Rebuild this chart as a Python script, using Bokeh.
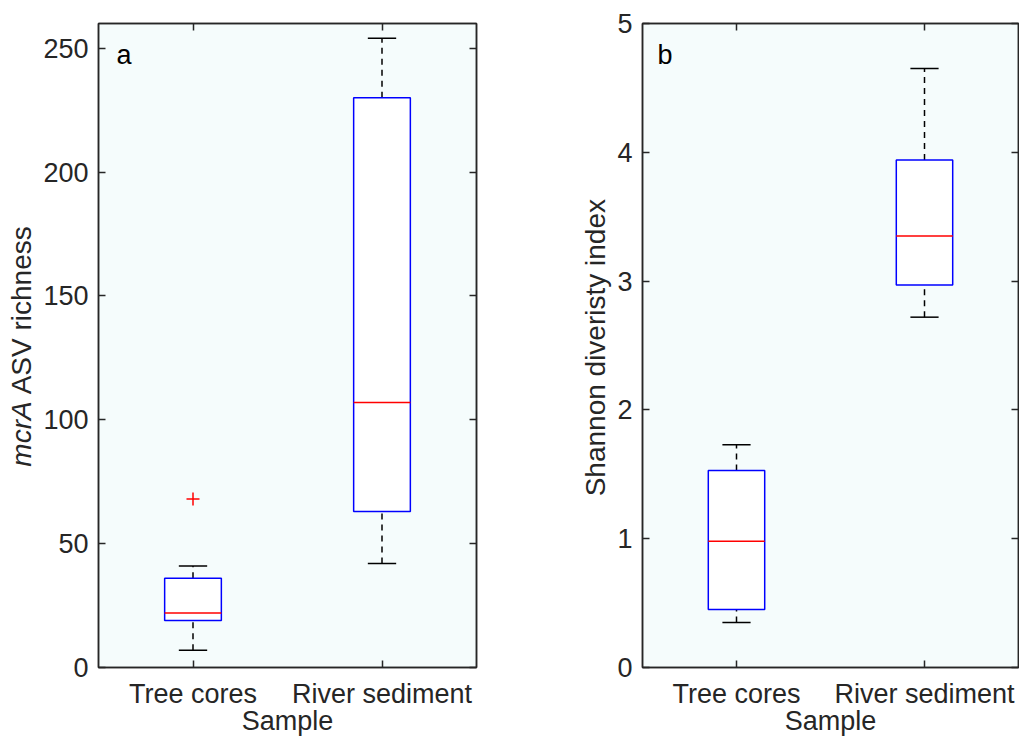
import math
from bokeh.plotting import figure
from bokeh.models import FixedTicker, Label, LinearAxis, Range1d, ColumnDataSource
from bokeh.layouts import row
from bokeh.embed import file_html
from bokeh.resources import INLINE

# ---------------- data ----------------
categories = ["Tree cores", "River sediment"]
positions = [1, 2]

# panel a: mcrA ASV richness
rich_low = [7, 42]
rich_q1 = [19, 63]
rich_med = [22, 107]
rich_q3 = [36, 230]
rich_high = [41, 254]
rich_out_x = [1]
rich_out_y = [68]
rich_ticks = [0, 50, 100, 150, 200, 250]

# panel b: Shannon diversity index
shan_low = [0.35, 2.72]
shan_q1 = [0.45, 2.97]
shan_med = [0.98, 3.35]
shan_q3 = [1.53, 3.94]
shan_high = [1.73, 4.65]
shan_out_x = []
shan_out_y = []
shan_ticks = [0, 1, 2, 3, 4, 5]

# ---------------- style ----------------
FONT = "Liberation Sans"
AX = "#262626"
BG = "#F5FCFC"
BOX_W = 0.30
CAP_W = 0.15
TICK_FS = "27px"
LAB_FS = "28px"
H = 738


def style_axis(ax, ticks, overrides=None, show_labels=True):
    ax.ticker = FixedTicker(ticks=ticks, minor_ticks=[])
    ax.major_tick_in = 7
    ax.major_tick_out = 0
    ax.minor_tick_in = 0
    ax.minor_tick_out = 0
    ax.axis_line_color = AX
    ax.axis_line_width = 1.5
    ax.major_tick_line_color = AX
    ax.major_tick_line_width = 1.5
    ax.major_label_text_font = FONT
    ax.major_label_text_font_size = TICK_FS
    ax.major_label_text_color = AX
    if overrides is not None:
        ax.major_label_overrides = overrides
    if not show_labels:
        ax.major_label_overrides = {t: "" for t in ticks}
        ax.major_label_standoff = 0


def make_panel(width, border_left, border_right, ymax, ticks,
               low, q1, med, q3, high, out_x, out_y, letter, letter_dx):
    p = figure(width=width, height=H,
               x_range=Range1d(0.5, 2.5), y_range=Range1d(0, ymax),
               output_backend="svg", toolbar_location=None,
               min_border_left=border_left, min_border_right=border_right,
               min_border_top=23, min_border_bottom=71)
    p.xgrid.visible = False
    p.ygrid.visible = False
    p.background_fill_color = BG
    p.border_fill_color = "white"
    p.outline_line_color = AX
    p.outline_line_width = 1.5

    xover = {pos: cat for pos, cat in zip(positions, categories)}
    style_axis(p.xaxis[0], positions, overrides=xover)
    p.xaxis[0].major_label_standoff = 11
    p.xaxis[0].axis_label = "Sample"
    p.xaxis[0].axis_label_text_font = FONT
    p.xaxis[0].axis_label_text_font_size = TICK_FS
    p.xaxis[0].axis_label_text_font_style = "normal"
    p.xaxis[0].axis_label_text_color = AX
    p.xaxis[0].axis_label_standoff = -6
    style_axis(p.yaxis[0], ticks)
    p.yaxis[0].major_label_standoff = 10

    right = LinearAxis()
    style_axis(right, ticks, show_labels=False)
    p.add_layout(right, "right")
    top = LinearAxis()
    style_axis(top, positions, show_labels=False)
    p.add_layout(top, "above")

    src = ColumnDataSource(dict(
        x=positions,
        left=[x - BOX_W / 2 for x in positions],
        right=[x + BOX_W / 2 for x in positions],
        cl=[x - CAP_W / 2 for x in positions],
        cr=[x + CAP_W / 2 for x in positions],
        low=low, q1=q1, med=med, q3=q3, high=high))

    # whiskers
    p.segment(x0="x", y0="q3", x1="x", y1="high", source=src,
              line_color="black", line_width=1.5, line_dash="6 5")
    p.segment(x0="x", y0="low", x1="x", y1="q1", source=src,
              line_color="black", line_width=1.5, line_dash="6 5")
    # caps
    p.segment(x0="cl", y0="high", x1="cr", y1="high", source=src,
              line_color="black", line_width=1.5)
    p.segment(x0="cl", y0="low", x1="cr", y1="low", source=src,
              line_color="black", line_width=1.5)
    # boxes
    p.quad(left="left", right="right", bottom="q1", top="q3", source=src,
           fill_color="white", line_color="#0000FF", line_width=1.5)
    # medians
    p.segment(x0="left", y0="med", x1="right", y1="med", source=src,
              line_color="#FF0000", line_width=1.5)
    # outliers
    if out_x:
        p.scatter(x=out_x, y=out_y, marker="cross", size=13,
                  line_color="#FF0000", line_width=1.5)

    # panel letter
    p.add_layout(Label(x=0.5, y=ymax, x_offset=letter_dx, y_offset=-31,
                       text=letter, text_font=FONT, text_font_size=TICK_FS,
                       text_color="black", text_baseline="alphabetic",
                       text_align="left"))
    return p


def make_filler(width):
    f = figure(width=width, height=H, x_range=Range1d(0, width),
               y_range=Range1d(0, H), output_backend="svg",
               toolbar_location=None, x_axis_type=None, y_axis_type=None,
               min_border=0)
    f.xgrid.visible = False
    f.ygrid.visible = False
    f.outline_line_color = None
    f.background_fill_color = "white"
    f.border_fill_color = "white"
    return f


def vlabel(fig, x, y_screen, text, style="normal", align="center",
           baseline="middle"):
    fig.add_layout(Label(x=x, y=H - y_screen, angle=math.pi / 2,
                         text=text, text_font=FONT, text_font_style=style,
                         text_font_size=LAB_FS, text_color=AX,
                         text_baseline=baseline, text_align=align))


# left title strip (y title of panel a, with italic gene name)
f1 = make_filler(40)
vlabel(f1, 21, 433, "mcrA", "italic", align="right", baseline="alphabetic")
vlabel(f1, 21, 425, "ASV richness", align="left", baseline="alphabetic")

p1 = make_panel(500, 58, 64, 260, rich_ticks,
                rich_low, rich_q1, rich_med, rich_q3, rich_high,
                rich_out_x, rich_out_y, "a", 18)

# strip for y title of panel b
f2 = make_filler(72)
vlabel(f2, 54.5, 371.5, "Shannon diveristy index")

p2 = make_panel(407, 30, 1, 5, shan_ticks,
                shan_low, shan_q1, shan_med, shan_q3, shan_high,
                shan_out_x, shan_out_y, "b", 15)

layout = row(f1, p1, f2, p2)
open("out.html", "w").write(file_html(layout, INLINE))
